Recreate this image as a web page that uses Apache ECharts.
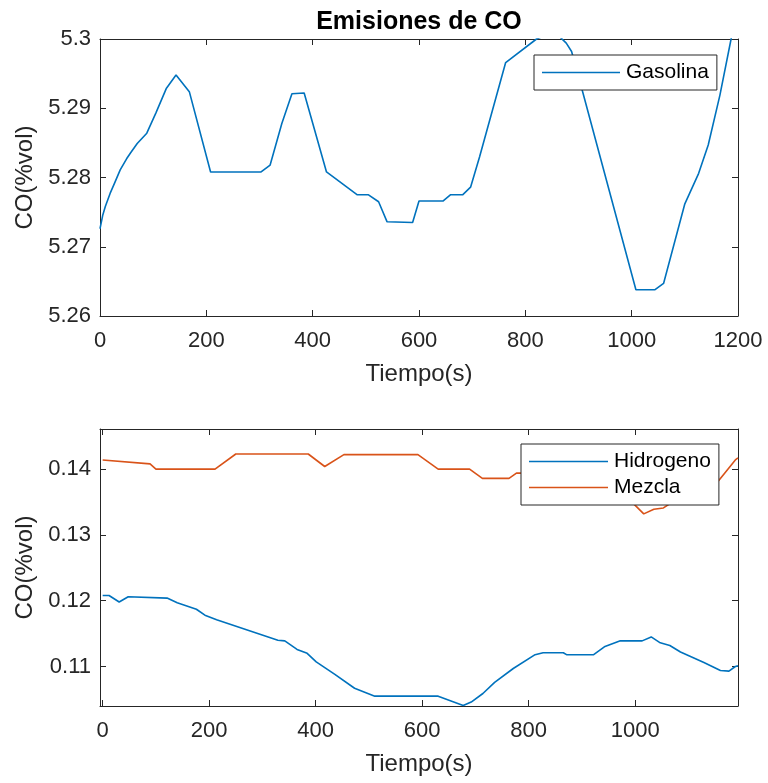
<!DOCTYPE html>
<html>
<head>
<meta charset="utf-8">
<script src="https://cdn.jsdelivr.net/npm/echarts@6/dist/echarts.min.js"></script>
<style>html,body{margin:0;padding:0;background:#fff}#c{width:768px;height:783px}</style>
</head>
<body>
<div id="c"></div>
<script>
// ---- data ----
const gasT = [0, 5, 10, 19, 28, 38, 50, 57, 70, 88, 105, 125, 143, 168, 208, 303, 320, 342, 361, 384, 426, 484, 505, 524, 540, 588, 600, 645, 659, 682, 697, 714, 763, 821, 840, 865, 877, 887, 906, 1008, 1044, 1060, 1100, 1126, 1144, 1166, 1187, 1200];
const gasV = [5.2726, 5.2745, 5.2758, 5.2777, 5.2793, 5.2811, 5.2827, 5.2835, 5.2849, 5.2864, 5.2893, 5.2929, 5.2948, 5.2924, 5.2808, 5.2808, 5.2818, 5.2878, 5.2921, 5.2922, 5.2808, 5.2775, 5.2775, 5.2765, 5.2736, 5.2735, 5.2766, 5.2766, 5.2775, 5.2775, 5.2786, 5.2830, 5.2966, 5.3000, 5.3006, 5.3003, 5.2994, 5.2982, 5.2929, 5.2638, 5.2638, 5.2647, 5.2762, 5.2806, 5.2847, 5.2919, 5.3000, 5.3051];

const hidT = [0, 12, 31, 48, 121, 140, 176, 192, 214, 329, 342, 365, 384, 401, 436, 473, 511, 630, 677, 692, 714, 736, 771, 812, 827, 865, 871, 922, 942, 972, 1013, 1030, 1047, 1065, 1085, 1129, 1160, 1176, 1188, 1193];
const hidV = [0.1208, 0.1208, 0.1198, 0.1206, 0.1204, 0.1197, 0.1187, 0.1178, 0.1171, 0.1140, 0.1139, 0.1126, 0.1120, 0.1107, 0.1088, 0.1067, 0.1055, 0.1055, 0.10406, 0.1046, 0.1059, 0.1076, 0.1097, 0.1118, 0.1121, 0.1121, 0.1118, 0.1118, 0.1130, 0.1139, 0.1139, 0.1145, 0.1136, 0.1132, 0.1122, 0.1106, 0.1094, 0.1093, 0.1100, 0.1101];

const mezT = [0, 89, 100, 211, 250, 386, 417, 453, 592, 630, 689, 713, 763, 777, 800, 900, 960, 1000, 1016, 1035, 1053, 1070, 1120, 1155, 1188, 1193];
const mezV = [0.1414, 0.1408, 0.1400, 0.1400, 0.1423, 0.1423, 0.1404, 0.1422, 0.1422, 0.1400, 0.1400, 0.1386, 0.1386, 0.1394, 0.1394, 0.1390, 0.1375, 0.1345, 0.1332, 0.1339, 0.1341, 0.1350, 0.1370, 0.1381, 0.1414, 0.1417];

const topXTicks = [0, 200, 400, 600, 800, 1000, 1200];
const topYTicks = [5.26, 5.27, 5.28, 5.29, 5.3];
const botXTicks = [0, 200, 400, 600, 800, 1000];
const botYTicks = [0.11, 0.12, 0.13, 0.14];

const titleText = 'Emisiones de CO';
const xName = 'Tiempo(s)';
const yName = 'CO(%vol)';

// ---- chart ----
const zip = (a, b) => a.map((t, i) => [t, b[i]]);
const AX = '#262626';
const FONT = 'Liberation Sans, Arial, Helvetica, sans-serif';
const fmt = v => String(+(+v).toFixed(4));

function mainX(grid, min, max, ticks, show) {
  return {
    type: 'value', gridIndex: grid, min, max, position: 'bottom',
    name: xName, nameLocation: 'middle', nameGap: 46,
    nameTextStyle: { color: AX, fontSize: 24, fontFamily: FONT },
    axisLine: { show: true, onZero: false, lineStyle: { color: AX, width: 1 } },
    axisTick: { show: true, inside: true, length: 6, lineStyle: { color: AX }, customValues: ticks },
    axisLabel: { show: true, color: AX, fontSize: 22, fontFamily: FONT, margin: 14, customValues: ticks, formatter: fmt },
    splitLine: { show: false }
  };
}
function mirrorX(grid, min, max, ticks) {
  return {
    type: 'value', gridIndex: grid, min, max, position: 'top',
    axisLine: { show: true, onZero: false, lineStyle: { color: AX, width: 1 } },
    axisTick: { show: true, inside: true, length: 6, lineStyle: { color: AX }, customValues: ticks },
    axisLabel: { show: false }, splitLine: { show: false }
  };
}
function mainY(grid, min, max, ticks) {
  return {
    type: 'value', gridIndex: grid, min, max, position: 'left',
    name: yName, nameLocation: 'middle', nameGap: 62, nameRotate: 90,
    nameTextStyle: { color: AX, fontSize: 24, fontFamily: FONT },
    axisLine: { show: true, onZero: false, lineStyle: { color: AX, width: 1 } },
    axisTick: { show: true, inside: true, length: 6, lineStyle: { color: AX }, customValues: ticks },
    axisLabel: { show: true, color: AX, fontSize: 22, fontFamily: FONT, margin: 9, customValues: ticks, formatter: fmt },
    splitLine: { show: false }
  };
}
function mirrorY(grid, min, max, ticks) {
  return {
    type: 'value', gridIndex: grid, min, max, position: 'right',
    axisLine: { show: true, onZero: false, lineStyle: { color: AX, width: 1 } },
    axisTick: { show: true, inside: true, length: 6, lineStyle: { color: AX }, customValues: ticks },
    axisLabel: { show: false }, splitLine: { show: false }
  };
}

const chart = echarts.init(document.getElementById('c'), null, { renderer: 'canvas' });
const lineBase = { type: 'line', showSymbol: false, symbol: 'none', animation: false, clip: true, lineStyle: { width: 1.6 } };

chart.setOption({
  animation: false,
  backgroundColor: '#fff',
  grid: [
    { left: 100, right: 30, top: 39, bottom: 467 },
    { left: 100, right: 30, top: 429, bottom: 77 }
  ],
  xAxis: [
    mainX(0, 0, 1200, topXTicks),
    mirrorX(0, 0, 1200, topXTicks),
    mainX(1, -5, 1193, botXTicks),
    mirrorX(1, -5, 1193, botXTicks)
  ],
  yAxis: [
    mainY(0, 5.26, 5.3, topYTicks),
    mirrorY(0, 5.26, 5.3, topYTicks),
    mainY(1, 0.104, 0.1461, botYTicks),
    mirrorY(1, 0.104, 0.1461, botYTicks)
  ],
  graphic: [{
    type: 'text', x: 419, y: 22, z: 100,
    style: { text: titleText, fill: '#000', font: 'bold 25px ' + FONT, align: 'center', verticalAlign: 'middle' }
  }],
  legend: [
    {
      data: [{ name: 'Gasolina', icon: 'rect' }],
      left: 534, top: 55, orient: 'horizontal',
      itemWidth: 78, itemHeight: 1.6, itemGap: 5,
      padding: [7, 8, 7, 8],
      backgroundColor: '#fff', borderColor: AX, borderWidth: 1, borderRadius: 0,
      textStyle: { color: '#000', fontSize: 21, fontFamily: FONT, padding: [0, 0, 0, 1] },
      selectedMode: false
    },
    {
      data: [{ name: 'Hidrogeno', icon: 'rect' }, { name: 'Mezcla', icon: 'rect' }],
      left: 521, top: 444, orient: 'vertical',
      itemWidth: 79, itemHeight: 1.6, itemGap: 5,
      padding: [7, 8, 7, 8],
      backgroundColor: '#fff', borderColor: AX, borderWidth: 1, borderRadius: 0,
      textStyle: { color: '#000', fontSize: 21, fontFamily: FONT, padding: [0, 0, 0, 1] },
      selectedMode: false
    }
  ],
  series: [
    Object.assign({}, lineBase, { name: 'Gasolina', xAxisIndex: 0, yAxisIndex: 0, color: '#0072BD', data: zip(gasT, gasV) }),
    Object.assign({}, lineBase, { name: 'Hidrogeno', xAxisIndex: 2, yAxisIndex: 2, color: '#0072BD', data: zip(hidT, hidV) }),
    Object.assign({}, lineBase, { name: 'Mezcla', xAxisIndex: 2, yAxisIndex: 2, color: '#D95319', data: zip(mezT, mezV) })
  ]
});
</script>
</body>
</html>
